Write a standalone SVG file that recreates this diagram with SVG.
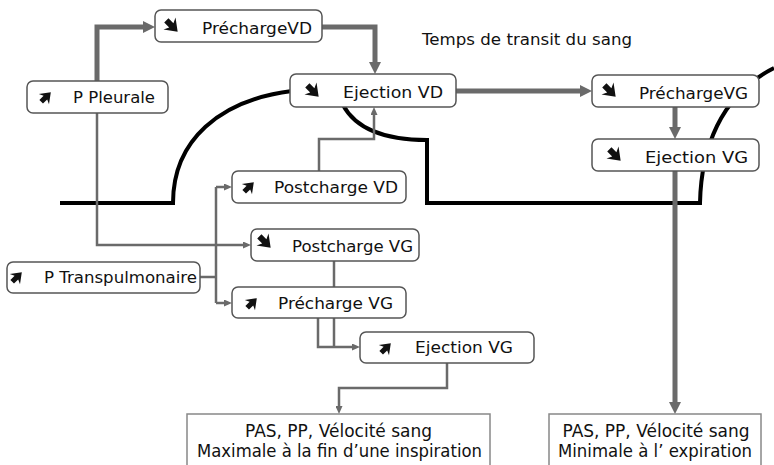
<svg xmlns="http://www.w3.org/2000/svg" width="774" height="465" viewBox="0 0 774 465">
<defs>
<style>
.box{fill:#fff;stroke:#555;stroke-width:1.5}
.out{fill:#fff;stroke:#888;stroke-width:1.5}
.lbl{font-family:"DejaVu Sans","Liberation Sans",sans-serif;font-size:16px;fill:#111}
.big{font-family:"DejaVu Sans","Liberation Sans",sans-serif;font-size:17px;fill:#111}
.thick{fill:none;stroke:#6a6a6a;stroke-width:5}
.thin{fill:none;stroke:#6a6a6a;stroke-width:2.5}
.curve{fill:none;stroke:#000;stroke-width:4}
</style>
<marker id="ahT" markerUnits="userSpaceOnUse" viewBox="0 0 12 12" refX="4" refY="6" markerWidth="12" markerHeight="12" orient="auto"><path d="M0,0 L12,6 L0,12 z" fill="#6a6a6a"/></marker>
<marker id="aht" markerUnits="userSpaceOnUse" viewBox="0 0 8 7" refX="3" refY="3.5" markerWidth="8" markerHeight="7" orient="auto"><path d="M0,0 L8,3.5 L0,7 z" fill="#6a6a6a"/></marker>
<path id="harrow" d="M-8,-3 L-1,-3 L-3.5,-8.5 L8,0 L-3.5,8.5 L-1,3 L-8,3 z" fill="#111"/>
<use id="se" href="#harrow" transform="rotate(45) scale(1.0)"/>
<use id="ne" href="#harrow" transform="rotate(-45) scale(0.85)"/>
</defs>
<rect width="774" height="465" fill="#fff"/>

<g id="curves">
<path class="curve" d="M60,203 H173 C173,140 220,100 292,91"/>
<path class="curve" d="M343,105 C358,133 392,140 427,140 V203 H700 C701,150 720,95 774,68"/>
</g>

<text class="lbl" x="422" y="45" textLength="210" lengthAdjust="spacingAndGlyphs">Temps de transit du sang</text>

<g id="connectors">
<path class="thick" d="M97,81 V27 H147" marker-end="url(#ahT)"/>
<path class="thick" d="M322,27 H375 V66" marker-end="url(#ahT)"/>
<path class="thick" d="M456,91 H584" marker-end="url(#ahT)"/>
<path class="thick" d="M675,107 V131" marker-end="url(#ahT)"/>
<path class="thick" d="M675,171 V406" marker-end="url(#ahT)"/>
<path class="thin" d="M97,113 V245 H246" marker-end="url(#aht)"/>
<path class="thin" d="M200,277 H216"/>
<path class="thin" d="M216,187 V303"/>
<path class="thin" d="M216,187 H227" marker-end="url(#aht)"/>
<path class="thin" d="M216,303 H227" marker-end="url(#aht)"/>
<path class="thin" d="M319,171 V139 H374 V112" marker-end="url(#aht)"/>
<path class="thin" d="M334,261 V287"/>
<path class="thin" d="M334,318 V347"/>
<path class="thin" d="M318,318 V347 H355" marker-end="url(#aht)"/>
<path class="thin" d="M447,363 V388 H339 V409" marker-end="url(#aht)"/>
</g>

<g id="n-prechargeVD">
<rect class="box" x="155" y="10" width="167" height="32" rx="6"/>
<use href="#se" transform="translate(172,26)"/>
<text class="lbl" x="202" y="34" textLength="110" lengthAdjust="spacingAndGlyphs">PréchargeVD</text>
</g>
<g id="n-ppleurale">
<rect class="box" x="27" y="81" width="141" height="32" rx="6"/>
<use href="#ne" transform="translate(46,97)"/>
<text class="lbl" x="73" y="103" textLength="82" lengthAdjust="spacingAndGlyphs">P Pleurale</text>
</g>
<g id="n-ejectionVD">
<rect class="box" x="290" y="74" width="166" height="33" rx="6"/>
<use href="#se" transform="translate(313,91)"/>
<text class="lbl" x="343" y="98" textLength="100" lengthAdjust="spacingAndGlyphs">Ejection VD</text>
</g>
<g id="n-prechargeVG">
<rect class="box" x="592" y="75" width="167" height="32" rx="6"/>
<use href="#se" transform="translate(610,91)"/>
<text class="lbl" x="639" y="99" textLength="109" lengthAdjust="spacingAndGlyphs">PréchargeVG</text>
</g>
<g id="n-ejectionVG1">
<rect class="box" x="592" y="139" width="167" height="32" rx="6"/>
<use href="#se" transform="translate(615,155)"/>
<text class="lbl" x="645" y="163" textLength="103" lengthAdjust="spacingAndGlyphs">Ejection VG</text>
</g>
<g id="n-postchargeVD">
<rect class="box" x="232" y="171" width="174" height="32" rx="6"/>
<use href="#ne" transform="translate(249,187)"/>
<text class="lbl" x="274" y="193" textLength="124" lengthAdjust="spacingAndGlyphs">Postcharge VD</text>
</g>
<g id="n-postchargeVG">
<rect class="box" x="251" y="229" width="168" height="32" rx="6"/>
<use href="#se" transform="translate(265,242)"/>
<text class="lbl" x="292" y="252" textLength="121" lengthAdjust="spacingAndGlyphs">Postcharge VG</text>
</g>
<g id="n-ptranspulmonaire">
<rect class="box" x="7" y="262" width="193" height="31" rx="6"/>
<use href="#ne" transform="translate(17,277)"/>
<text class="lbl" x="44" y="283" textLength="153" lengthAdjust="spacingAndGlyphs">P Transpulmonaire</text>
</g>
<g id="n-prechargeVG2">
<rect class="box" x="232" y="287" width="174" height="31" rx="6"/>
<use href="#ne" transform="translate(252,303)"/>
<text class="lbl" x="278" y="309" textLength="115" lengthAdjust="spacingAndGlyphs">Précharge VG</text>
</g>
<g id="n-ejectionVG2">
<rect class="box" x="360" y="332" width="174" height="31" rx="6"/>
<use href="#ne" transform="translate(386,348)"/>
<text class="lbl" x="415" y="353" textLength="98" lengthAdjust="spacingAndGlyphs">Ejection VG</text>
</g>
<g id="n-out-max">
<rect class="out" x="187" y="414" width="303" height="70"/>
<text class="big" x="338.5" y="437" text-anchor="middle">PAS, PP, Vélocité sang</text>
<text class="big" x="339.5" y="457" text-anchor="middle" textLength="285" lengthAdjust="spacingAndGlyphs">Maximale à la fin d’une inspiration</text>
</g>
<g id="n-out-min">
<rect class="out" x="549" y="414" width="212" height="70"/>
<text class="big" x="656" y="437" text-anchor="middle">PAS, PP, Vélocité sang</text>
<text class="big" x="655" y="457" text-anchor="middle" textLength="194" lengthAdjust="spacingAndGlyphs">Minimale à l’ expiration</text>
</g>
</svg>
